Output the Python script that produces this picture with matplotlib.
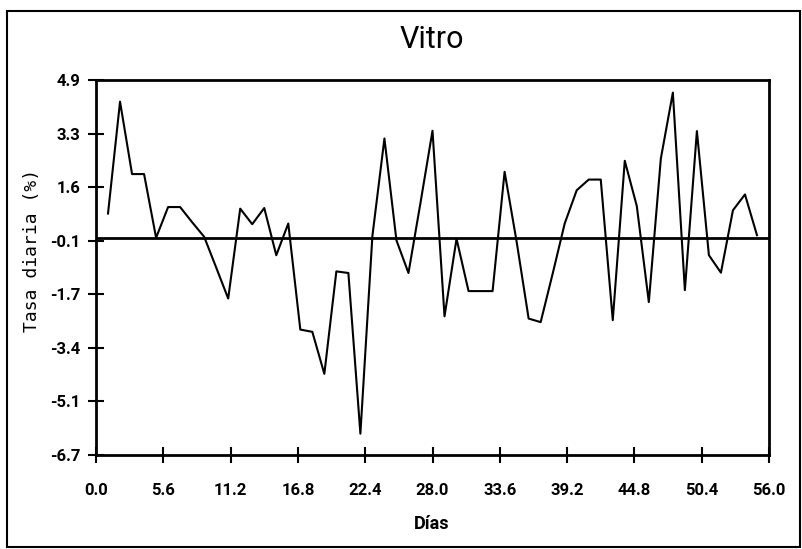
import numpy as np
import matplotlib
matplotlib.use('Agg')
import matplotlib.pyplot as plt
from matplotlib.patches import Rectangle

dias = list(range(1, 56))
tasa = [0.77, 4.23, 1.99, 1.99, 0.02, 0.97, 0.97, 0.5, 0.05, -0.9,
        -1.86, 0.92, 0.44, 0.94, -0.52, 0.46, -2.82, -2.89, -4.19, -1.02,
        -1.07, -6.04, 0.08, 3.09, -0.06, -1.07, 1.1, 3.33, -2.41, -0.01,
        -1.63, -1.63, -1.63, 2.06, -0.1, -2.48, -2.59, -1.09, 0.46, 1.49,
        1.82, 1.82, -2.53, 2.4, 1.0, -1.97, 2.47, 4.51, -1.6, 3.32,
        -0.52, -1.06, 0.87, 1.36, 0.1]

xticks = [0.0, 5.6, 11.2, 16.8, 22.4, 28.0, 33.6, 39.2, 44.8, 50.4, 56.0]
xlabels = ['0.0', '5.6', '11.2', '16.8', '22.4', '28.0', '33.6', '39.2', '44.8', '50.4', '56.0']
yticks = np.linspace(-6.7, 4.9, 8)
ylabels = ['-6.7', '-5.1', '-3.4', '-1.7', '-0.1', '1.6', '3.3', '4.9']

fnt = 'Roboto'

fig = plt.figure(figsize=(8.02, 5.49), dpi=100)
ax = fig.add_axes([96/802, 1-455/549, (769-96)/802, (455-80)/549])

ax.plot(dias, tasa, color='black', lw=1.5)
ax.axhline(0, color='black', lw=2)

ax.set_xlim(0, 56)
ax.set_ylim(-6.7, 4.9)
ax.set_xticks(xticks)
ax.set_xticklabels(xlabels, family=fnt, fontsize=12, fontweight='bold')
ax.set_yticks(yticks)
ax.set_yticklabels(ylabels, family=fnt, fontsize=12, fontweight='bold')
ax.tick_params(direction='inout', length=12, width=1.5, pad=5)
ax.tick_params(axis='x', pad=14)
for s in ax.spines.values():
    s.set_linewidth(2)

fig.text(432/802, 1-40/549, 'Vitro', ha='center', va='center',
         family=fnt, fontsize=22)
fig.text(432/802, 1-524/549, 'Días', ha='center', va='center',
         family=fnt, fontsize=13, fontweight='bold')
fig.text(32/802, 1-250/549, 'Tasa diaria (%)', ha='center', va='center',
         rotation=90, family='DejaVu Sans Mono', fontsize=13)

fig.patches.append(Rectangle((7/802, 2/549), 793/802, 536/549,
                             transform=fig.transFigure, fill=False,
                             lw=1.5, color='black'))

fig.savefig('out.png', dpi=100)
